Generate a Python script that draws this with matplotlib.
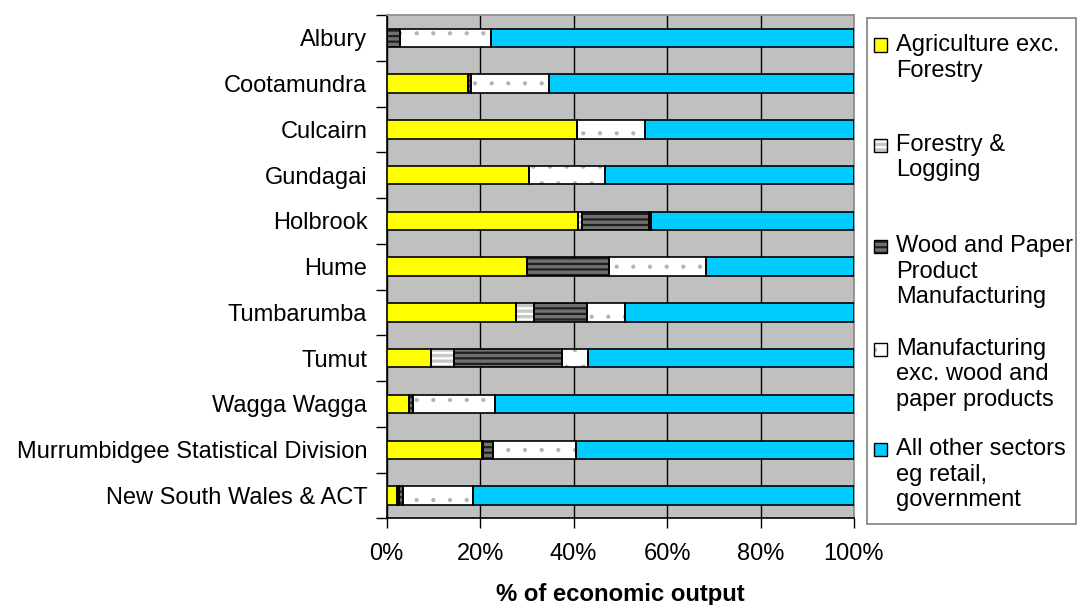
import matplotlib
matplotlib.use("Agg")
import matplotlib.pyplot as plt
from matplotlib.patches import Rectangle
from matplotlib.ticker import PercentFormatter, FixedLocator
import numpy as np

# Share of economic output by sector (%)
regions = ["Albury", "Cootamundra", "Culcairn", "Gundagai", "Holbrook", "Hume",
           "Tumbarumba", "Tumut", "Wagga Wagga",
           "Murrumbidgee Statistical Division", "New South Wales & ACT"]
agriculture = [0.0, 17.5, 40.7, 30.5, 41.0, 30.0, 27.7, 9.4, 4.8, 20.3, 2.3]
forestry = [0.0, 0.0, 0.0, 0.0, 0.7, 0.0, 3.9, 4.9, 0.0, 0.3, 0.3]
wood_paper = [2.8, 0.5, 0.0, 0.0, 14.4, 17.6, 11.3, 23.3, 0.9, 2.2, 0.8]
manufacturing = [19.5, 16.8, 14.6, 16.2, 0.5, 20.7, 8.2, 5.4, 17.5, 17.7, 15.1]
other_sectors = [77.7, 65.2, 44.7, 53.3, 43.4, 31.7, 48.9, 57.0, 76.8, 59.5, 81.5]

sector_labels = [
    ["Agriculture exc.", "Forestry"],
    ["Forestry &", "Logging"],
    ["Wood and Paper", "Product", "Manufacturing"],
    ["Manufacturing", "exc. wood and", "paper products"],
    ["All other sectors", "eg retail,", "government"],
]

# face colour, hatch pattern, hatch colour, hatch line width
styles = [
    ("#FFFF00", None, None, 1.0),
    ("#C8C8C8", "---", "#FFFFFF", 1.6),
    ("#707070", "---", "#202020", 1.6),
    ("#FFFFFF", ".", "#B4B4B4", 0.6),
    ("#00CCFF", None, None, 1.0),
]

plt.rcParams["font.family"] = ["Liberation Sans", "DejaVu Sans"]
FS = 17

fig = plt.figure(figsize=(10.79, 6.05), dpi=100)
W, H = 1079, 605
ax = fig.add_axes([386.7 / W, 1 - 518.3 / H, (854 - 386.7) / W, (518.3 - 15) / H])
ax.set_facecolor("#C0C0C0")

y = np.arange(len(regions))
series = [agriculture, forestry, wood_paper, manufacturing, other_sectors]
left = np.zeros(len(regions))
bar_h = 0.4
for vals, (fc, hatch, hc, hlw) in zip(series, styles):
    vals = np.asarray(vals)
    with plt.rc_context({"hatch.linewidth": hlw}):
        ax.barh(y, vals, left=left, height=bar_h, color=fc, hatch=hatch,
                edgecolor=hc if hc else fc, linewidth=0, zorder=3)
    ax.barh(y, vals, left=left, height=bar_h, fill=False,
            edgecolor="black", linewidth=1.2, zorder=4)
    left += vals

ax.set_xlim(0, 100)
ax.set_ylim(len(regions) - 0.5, -0.5)

ax.set_xticks(np.arange(0, 101, 20))
ax.xaxis.set_major_formatter(PercentFormatter(decimals=0))
ax.tick_params(axis="x", length=7, width=1, pad=11, labelsize=FS, direction="out")
ax.grid(axis="x", color="black", linewidth=1, zorder=1)
ax.set_axisbelow(True)

ax.set_yticks(y)
ax.set_yticklabels(regions)
ax.tick_params(axis="y", which="major", length=0, pad=14, labelsize=FS)
ax.yaxis.set_minor_locator(FixedLocator(np.arange(-0.5, len(regions), 1)))
ax.tick_params(axis="y", which="minor", length=8, width=1, direction="out")

for side in ("top", "right"):
    ax.spines[side].set_color("#909090")
    ax.spines[side].set_linewidth(1.3)
for side in ("left", "bottom"):
    ax.spines[side].set_color("black")
    ax.spines[side].set_linewidth(1.2)

ax.set_xlabel("% of economic output", fontsize=17.2, fontweight="bold")
ax.xaxis.set_label_coords(0.5, (518.3 - 595) / (518.3 - 15))
ax.xaxis.label.set_va("center")

# Legend panel
fig.patches.append(Rectangle((866.7 / W, 1 - 524 / H), (1076 - 866.7) / W, (524 - 18) / H,
                             transform=fig.transFigure, facecolor="white",
                             edgecolor="#808080", linewidth=1.2))
entry_y = [45, 145, 246, 349, 449]
line_step = 25.5
sq = 13
for lines, (fc, hatch, hc, hlw), ey in zip(sector_labels, styles, entry_y):
    with plt.rc_context({"hatch.linewidth": hlw}):
        fig.patches.append(Rectangle((874 / W, 1 - (ey + sq / 2) / H), sq / W, sq / H,
                                     transform=fig.transFigure, facecolor=fc, hatch=hatch,
                                     edgecolor=hc if hc else fc, linewidth=0))
    fig.patches.append(Rectangle((874 / W, 1 - (ey + sq / 2) / H), sq / W, sq / H,
                                 transform=fig.transFigure, fill=False,
                                 edgecolor="black", linewidth=1))
    for i, line in enumerate(lines):
        fig.text(896 / W, 1 - (ey + i * line_step) / H, line, fontsize=FS,
                 ha="left", va="center")

fig.savefig("out.png", dpi=100)
